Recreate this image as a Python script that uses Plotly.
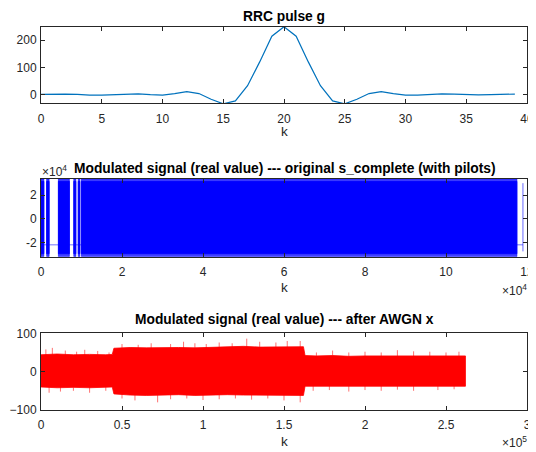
import plotly.graph_objects as go

# ---------------- data ----------------
# Plot 1: RRC pulse g (k = 0..39)
rrc_k = list(range(40))
rrc_g = [0, 1, 1, 0, -3, -3, -1, 2, 2, -1, -3, 3, 10, 3, -18, -35, -24, 32, 120, 215,
         250, 215, 120, 32, -24, -35, -18, 3, 10, 3, -3, -3, -1, 2, 1, -1, -2, -1, 0, 1]

# Plot 2: s_complete (real) - dense signal blocks [start, end] in samples
sc_block_start = [0, 1400, 4300, 8100, 9200, 10000]
sc_block_end = [700, 2000, 7000, 8600, 9600, 117500]
sc_min = -32000
sc_max = 33500
sc_inner_min = -29500
sc_inner_max = 31500
sc_base_level = -22000          # constant level seen in the gaps
sc_tail_k = 119000              # isolated final excursion
sc_tail_min = -27500
sc_tail_max = 30000

# Plot 3: after AWGN - envelope of the noisy signal (k in samples)
aw_k = [0, 10000, 20000, 30000, 40000, 44000, 45000, 55000, 65000, 75000, 85000, 95000,
        105000, 115000, 125000, 135000, 145000, 155000, 162000, 163000, 170000, 180000,
        190000, 200000, 210000, 220000, 230000, 240000, 250000, 262000]
aw_upper = [44, 46, 44, 45, 44, 45, 61, 63, 62, 63, 63, 62, 63, 64, 66, 64, 65, 66, 65,
            42, 41, 42, 40, 41, 41, 42, 42, 41, 41, 41]
aw_lower = [-40, -42, -41, -42, -41, -40, -58, -61, -62, -61, -60, -62, -61, -60, -61, -62,
            -61, -62, -62, -38, -38, -39, -38, -38, -39, -38, -38, -39, -38, -38]
aw_spike_up_k = [3000, 7000, 15000, 22000, 27000, 35000, 42000, 50000, 60000, 68000, 80000,
                 88000, 95000, 102000, 110000, 118000, 127000, 135000, 145000, 152000, 160000,
                 170000, 180000, 190000, 200000, 210000, 220000, 230000, 240000, 250000, 258000]
aw_spike_up = [58, 62, 55, 52, 57, 54, 50, 72, 70, 74, 72, 78, 74, 72, 76, 74, 86, 78, 76,
               80, 80, 50, 55, 50, 52, 50, 56, 53, 52, 50, 52]
aw_spike_dn_k = [5000, 12000, 20000, 30000, 40000, 50000, 58000, 72000, 80000, 90000, 100000,
                 110000, 120000, 130000, 140000, 150000, 160000, 168000, 178000, 190000,
                 200000, 210000, 220000, 230000, 245000, 255000]
aw_spike_dn = [-55, -52, -50, -55, -50, -70, -75, -80, -72, -70, -74, -72, -70, -73, -70,
               -75, -80, -50, -48, -52, -48, -50, -47, -50, -48, -46]

# ---------------- figure ----------------
OFF = 8                      # page body margin
W, H = 536 - OFF, 452 - OFF
L, R = 41 - OFF, 527 - OFF
boxes = [(26.7 - OFF, 103.3 - OFF), (179 - OFF, 256.7 - OFF), (333.3 - OFF, 410 - OFF)]

def ydom(top, bot):
    return [1 - bot / H, 1 - top / H]

xdom = [L / W, R / W]
FONT = "Liberation Sans, Arial, Helvetica, sans-serif"
GRAY = "#262626"

fig = go.Figure()

# plot 1
fig.add_trace(go.Scatter(x=rrc_k, y=rrc_g, mode="lines",
                         line=dict(color="#0072BD", width=1.2),
                         xaxis="x", yaxis="y", showlegend=False))

# plot 2: baseline level and tail excursion
fig.add_trace(go.Scatter(x=[0, sc_tail_k], y=[sc_base_level, sc_base_level], mode="lines",
                         line=dict(color="rgba(0,0,255,0.55)", width=1),
                         xaxis="x2", yaxis="y2", showlegend=False))
fig.add_trace(go.Scatter(x=[sc_tail_k, sc_tail_k], y=[sc_tail_min, sc_tail_max], mode="lines",
                         line=dict(color="rgba(0,0,255,0.6)", width=1),
                         xaxis="x2", yaxis="y2", showlegend=False))
# outer fringe (lighter) and solid core of the dense blocks
for lo, hi, col in [(sc_min, sc_max, "rgba(0,0,255,0.75)"),
                    (sc_inner_min, sc_inner_max, "rgb(0,0,255)")]:
    px, py = [], []
    for s, e in zip(sc_block_start, sc_block_end):
        px += [s, e, e, s, s, None]
        py += [lo, lo, hi, hi, lo, None]
    fig.add_trace(go.Scatter(x=px, y=py, mode="lines", fill="toself",
                             fillcolor=col, line=dict(color=col, width=0.8),
                             xaxis="x2", yaxis="y2", showlegend=False))

# plot 3: envelope band
bx = aw_k + aw_k[::-1]
by = aw_upper + aw_lower[::-1]
fig.add_trace(go.Scatter(x=bx, y=by, mode="lines", fill="toself", fillcolor="#FF0000",
                         line=dict(color="#FF0000", width=0.8),
                         xaxis="x3", yaxis="y3", showlegend=False))
sx, sy = [], []
for k, v in zip(aw_spike_up_k, aw_spike_up):
    sx += [k, k, None]
    sy += [0, v, None]
for k, v in zip(aw_spike_dn_k, aw_spike_dn):
    sx += [k, k, None]
    sy += [0, v, None]
fig.add_trace(go.Scatter(x=sx, y=sy, mode="lines", line=dict(color="rgba(255,0,0,0.7)", width=0.8),
                         xaxis="x3", yaxis="y3", showlegend=False))

ax_common = dict(showline=True, linecolor=GRAY, linewidth=1, mirror="allticks",
                 ticks="inside", ticklen=4, tickcolor=GRAY, showgrid=False, zeroline=False,
                 automargin=False,
                 tickfont=dict(family=FONT, size=12, color=GRAY))

fig.update_layout(
    template="none",
    width=W, height=H, margin=dict(l=0, r=0, t=0, b=0, pad=0),
    paper_bgcolor="white", plot_bgcolor="white", showlegend=False,
    xaxis=dict(domain=xdom, anchor="y", range=[0, 40], tickvals=[0, 5, 10, 15, 20, 25, 30, 35, 40],
               ticklabelstandoff=4, **ax_common),
    yaxis=dict(domain=ydom(*boxes[0]), anchor="x", range=[-33, 250], tickvals=[0, 100, 200],
               ticklabelstandoff=1, **ax_common),
    xaxis2=dict(domain=xdom, anchor="y2", range=[0, 120000],
                tickvals=[0, 20000, 40000, 60000, 80000, 100000, 120000],
                ticktext=["0", "2", "4", "6", "8", "10", "12"], ticklabelstandoff=4, **ax_common),
    yaxis2=dict(domain=ydom(*boxes[1]), anchor="x2", range=[-32000, 33500],
                tickvals=[-20000, 0, 20000], ticktext=["-2", "0", "2"],
                ticklabelstandoff=1, **ax_common),
    xaxis3=dict(domain=xdom, anchor="y3", range=[0, 300000],
                tickvals=[0, 50000, 100000, 150000, 200000, 250000, 300000],
                ticktext=["0", "0.5", "1", "1.5", "2", "2.5", "3"], ticklabelstandoff=4, **ax_common),
    yaxis3=dict(domain=ydom(*boxes[2]), anchor="x3", range=[-100, 100],
                tickvals=[-100, 0, 100], ticklabelstandoff=1, **ax_common),
)

def ann(text, x, y, size, bold=False, xanchor="center", color=None):
    return dict(text=("<b>%s</b>" % text) if bold else text, x=(x - OFF) / W, y=1 - (y - OFF) / H,
                xref="paper", yref="paper", xanchor=xanchor, yanchor="middle",
                showarrow=False, font=dict(family=FONT, size=size, color=color or "black"))

cx = (41 + 527) / 2
anns = [
    ann("RRC pulse g", cx, 16, 13.8, bold=True),
    ann("Modulated signal (real value) --- original s_complete (with pilots)", cx + 1, 168.5, 13.8, bold=True),
    ann("Modulated signal (real value) --- after AWGN x", cx, 319, 13.8, bold=True),
    ann("k", cx, 131.5, 13.5, color=GRAY),
    ann("k", cx, 287.5, 13.5, color=GRAY),
    ann("k", cx, 441, 13.5, color=GRAY),
    ann("×10<sup>4</sup>", 40, 171, 12, xanchor="left", color=GRAY),
    ann("×10<sup>4</sup>", 529, 290, 12, xanchor="right", color=GRAY),
    ann("×10<sup>5</sup>", 529, 442, 12, xanchor="right", color=GRAY),
]
fig.update_layout(annotations=anns)

fig.write_html("out.html")
